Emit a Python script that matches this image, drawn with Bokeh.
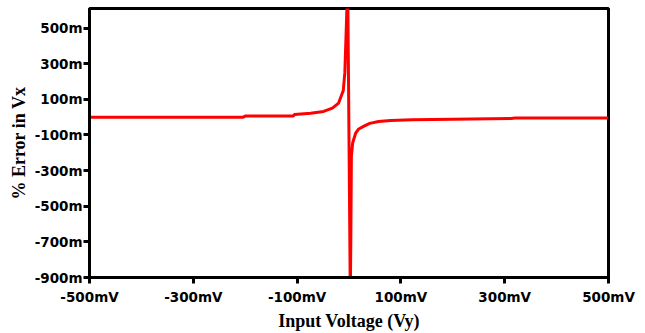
from bokeh.plotting import figure
from bokeh.models import Range1d, FixedTicker
from bokeh.embed import file_html
from bokeh.resources import INLINE

# Input voltage Vy (mV) and % error in Vx (milli-percent)
vy_mv = [-500, -400, -300, -205, -200, -150, -107, -105, -74, -49, -32, -20,
         -11, -8, -2.5, 2.5, 3.5, 4.6, 7, 12.9, 18, 28, 40, 57, 80, 122, 200,
         312, 320, 400, 500]
err_m = [-1, -1, -1, -1, 6, 6, 7, 15, 22, 32, 51, 79,
         150, 250, 750, -1000, -700, -220, -145, -89, -68, -52, -35, -24, -19, -14, -11,
         -8, -5, -5, -4]

y_ticks = [-900, -700, -500, -300, -100, 100, 300, 500]
y_tick_labels = ["-900m", "-700m", "-500m", "-300m", "-100m", "100m", "300m", "500m"]
x_ticks = [-500, -300, -100, 100, 300, 500]
x_tick_labels = ["-500mV", "-300mV", "-100mV", "100mV", "300mV", "500mV"]

p = figure(width=645, height=333, output_backend="svg", toolbar_location=None,
           x_range=Range1d(-500, 500), y_range=Range1d(-900, 610),
           min_border_left=89, min_border_right=37, min_border_top=8, min_border_bottom=56)

p.line(vy_mv, err_m, line_color="#ff0000", line_width=3)

p.background_fill_color = "white"
p.border_fill_color = "white"
p.outline_line_color = "black"
p.outline_line_width = 3
p.xgrid.visible = False
p.ygrid.visible = False

for ax in (p.xaxis[0], p.yaxis[0]):
    ax.axis_line_width = 3
    ax.axis_line_color = "black"
    ax.major_tick_line_width = 3
    ax.major_tick_line_color = "black"
    ax.major_tick_in = 0
    ax.major_tick_out = 6
    ax.minor_tick_line_color = None
    ax.major_label_text_font = "DejaVu Sans"
    ax.major_label_text_font_style = "bold"
    ax.major_label_text_font_size = "13.5px"
    ax.major_label_text_color = "black"
    ax.axis_label_text_font = "Liberation Serif"
    ax.axis_label_text_font_style = "bold"
    ax.axis_label_text_font_size = "18px"
    ax.axis_label_text_color = "black"

p.xaxis.ticker = FixedTicker(ticks=x_ticks)
p.xaxis.major_label_overrides = {t: l for t, l in zip(x_ticks, x_tick_labels)}
p.yaxis.ticker = FixedTicker(ticks=y_ticks)
p.yaxis.major_label_overrides = {t: l for t, l in zip(y_ticks, y_tick_labels)}

p.xaxis.axis_label = "Input Voltage (Vy)"
p.yaxis.axis_label = "% Error in Vx"
p.xaxis.major_label_standoff = 5
p.xaxis.axis_label_standoff = 3
p.yaxis.major_label_standoff = 1
p.yaxis.axis_label_standoff = 3

open("out.html", "w").write(file_html(p, INLINE))
